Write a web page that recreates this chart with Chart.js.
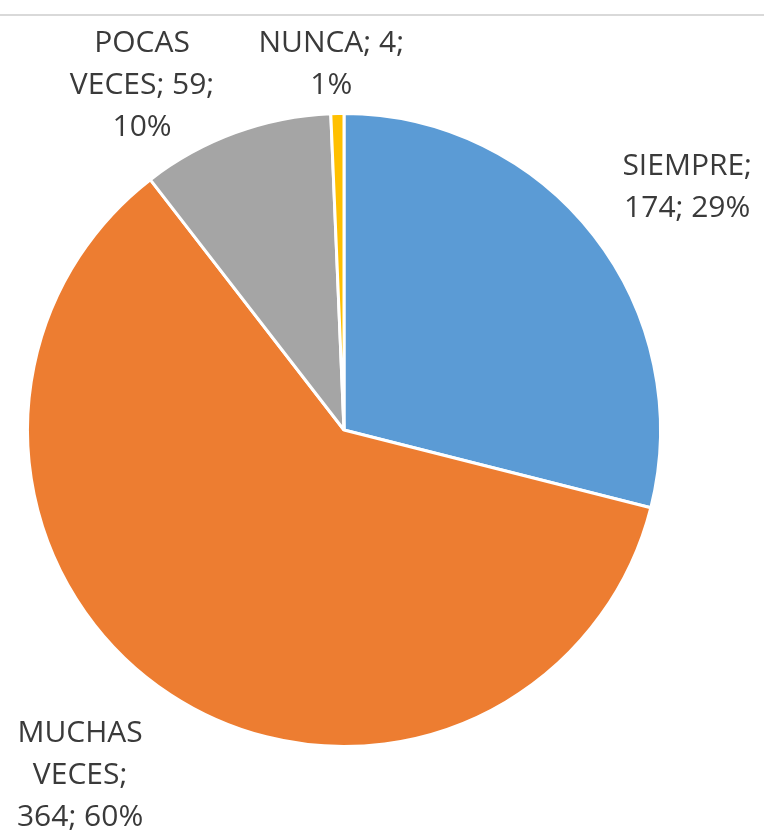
<!DOCTYPE html>
<html>
<head>
<meta charset="utf-8">
<script src="https://cdn.jsdelivr.net/npm/chart.js@4/dist/chart.umd.min.js"></script>
<style>
  html, body { margin: 0; padding: 0; background: #fff; }
  #wrap { width: 764px; height: 840px; }
</style>
</head>
<body>
<div id="wrap"><canvas id="pie" width="764" height="840"></canvas></div>
<script>
const categories = ['SIEMPRE', 'MUCHAS VECES', 'POCAS VECES', 'NUNCA']
const counts = [174, 364, 59, 4]
const percents = ['29%', '60%', '10%', '1%']
const colors = ['#5B9BD5', '#ED7D31', '#A5A5A5', '#FFC000']

// label text split into lines the way the picture wraps them
const labelLines = [
  ['SIEMPRE;', '174; 29%'],
  ['MUCHAS', 'VECES;', '364; 60%'],
  ['POCAS', 'VECES; 59;', '10%'],
  ['NUNCA; 4;', '1%']
]

// where each label block sits: angle (deg, 0 = right, clockwise) and distance from the pie centre, in radii
const labelPlace = [
  { angle: -35.2, dist: 1.327 },
  { angle: 127.4, dist: 1.373 },
  { angle: -120.4, dist: 1.261 },
  { angle: -92.0, dist: 1.155 }
]

const topRule = {
  id: 'topRule',
  beforeDraw(chart) {
    const { ctx, width } = chart
    ctx.save()
    ctx.fillStyle = '#fff'
    ctx.fillRect(0, 0, width, chart.height)
    ctx.strokeStyle = '#d9d9d9'
    ctx.lineWidth = 2
    ctx.beginPath()
    ctx.moveTo(0, 15)
    ctx.lineTo(width, 15)
    ctx.stroke()
    ctx.restore()
  }
}

const sliceLabels = {
  id: 'sliceLabels',
  afterDraw(chart) {
    const { ctx } = chart
    const arcs = chart.getDatasetMeta(0).data
    ctx.save()
    ctx.font = '30px "Open Sans", sans-serif'
    ctx.fillStyle = '#3a3a3a'
    ctx.textAlign = 'center'
    ctx.textBaseline = 'middle'
    const lineH = 42
    arcs.forEach((arc, i) => {
      const { x, y, outerRadius } = arc.getProps(['x', 'y', 'outerRadius'], true)
      const a = labelPlace[i].angle * Math.PI / 180
      const cx = x + Math.cos(a) * outerRadius * labelPlace[i].dist
      const cy = y + Math.sin(a) * outerRadius * labelPlace[i].dist
      const lines = labelLines[i]
      const y0 = cy - (lines.length - 1) * lineH / 2
      lines.forEach((t, k) => ctx.fillText(t, cx, y0 + k * lineH))
    })
    ctx.restore()
  }
}

new Chart(document.getElementById('pie'), {
  type: 'pie',
  data: {
    labels: categories,
    datasets: [{
      data: counts,
      backgroundColor: colors,
      borderColor: '#ffffff',
      borderWidth: 3
    }]
  },
  options: {
    responsive: false,
    animation: false,
    layout: { padding: { left: 26, right: 102, top: 112, bottom: 92 } },
    plugins: {
      legend: { display: false },
      tooltip: { enabled: false }
    }
  },
  plugins: [topRule, sliceLabels]
})
</script>
</body>
</html>
